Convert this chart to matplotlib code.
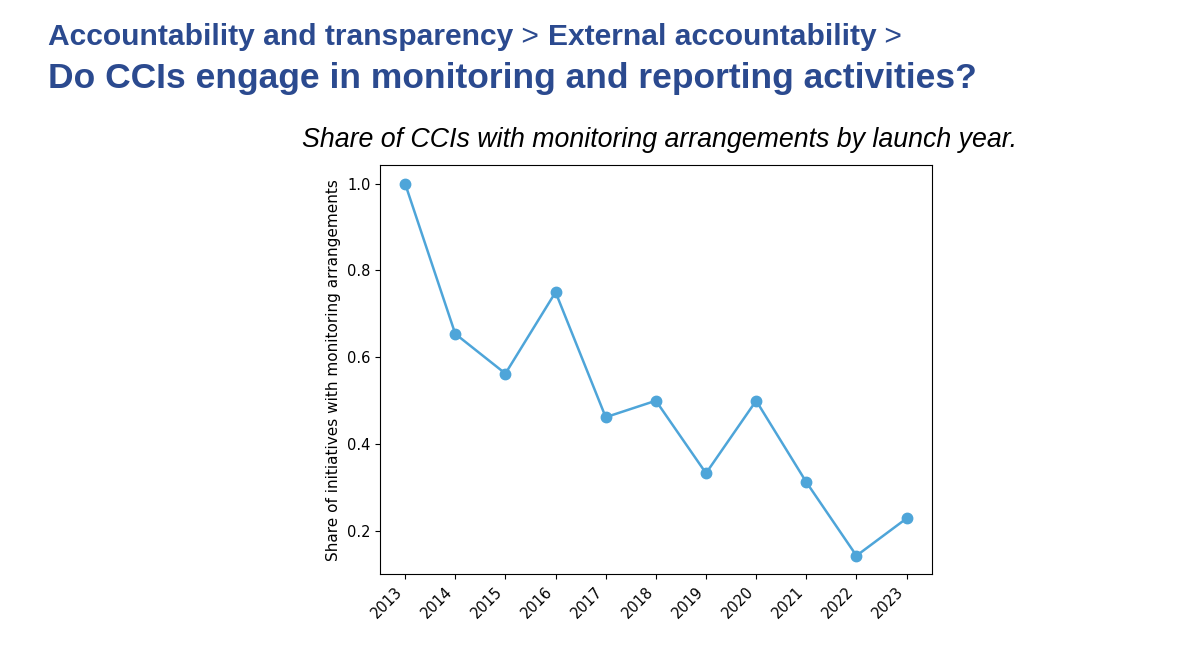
import numpy as np
import matplotlib
matplotlib.use("Agg")
import matplotlib.pyplot as plt

years = [2013, 2014, 2015, 2016, 2017, 2018, 2019, 2020, 2021, 2022, 2023]
share_monitoring = [1.0, 0.654, 0.5625, 0.75, 0.462, 0.5, 0.333, 0.5, 0.3125, 0.143, 0.229]

title_blue = "#2b4a8f"
line_blue = "#4ea5d9"

fig = plt.figure(figsize=(12, 6.51), dpi=100)
ax = fig.add_axes([0.3167, 0.1178, 0.4597, 0.6287])

ax.plot(years, share_monitoring, color=line_blue, marker="o", markersize=7.5, linewidth=1.8)
ax.set_xticks(years)
ax.set_xticklabels([str(y) for y in years], rotation=45, ha="right", fontsize=10.5)
ax.tick_params(axis="y", labelsize=10.5)
ax.set_ylabel("Share of initiatives with monitoring arrangements", fontsize=11)

# header, the ">" separators are not bold in the original
fig.canvas.draw()
renderer = fig.canvas.get_renderer()
pieces = [("Accountability and transparency", "bold"), (" > ", "normal"),
          ("External accountability", "bold"), (" >", "normal")]
x = 48 / 1200
for txt, w in pieces:
    t = fig.text(x, 1 - 45 / 651, txt, fontsize=21.6, fontweight=w, color=title_blue,
                 family="Liberation Sans", va="baseline", ha="left")
    bb = t.get_window_extent(renderer)
    x += bb.width / 1200

fig.text(48 / 1200, 1 - 88 / 651, "Do CCIs engage in monitoring and reporting activities?",
         fontsize=25.5, fontweight="bold", color=title_blue, family="Liberation Sans",
         va="baseline", ha="left")

fig.text(302 / 1200, 1 - 147 / 651, "Share of CCIs with monitoring arrangements by launch year.",
         fontsize=19.3, style="italic", color="black", family="Liberation Sans",
         va="baseline", ha="left")

fig.savefig("out.png", dpi=100)
